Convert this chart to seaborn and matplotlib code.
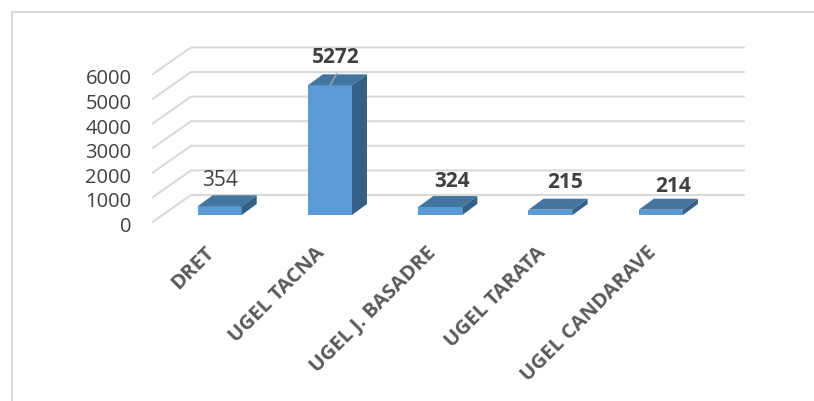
import matplotlib
matplotlib.use("Agg")
import matplotlib.pyplot as plt
from matplotlib.patches import Polygon, Rectangle
import pandas as pd
import seaborn as sns

categorias = ["DRET", "UGEL TACNA", "UGEL J. BASADRE", "UGEL TARATA", "UGEL CANDARAVE"]
valores = [354, 5272, 324, 215, 214]
negrita = [False, True, True, True, True]
y_ticks = [0, 1000, 2000, 3000, 4000, 5000, 6000]

W, H = 814, 401
df = pd.DataFrame({"ugel": categorias, "total": valores})

sns.set_theme(style="white")
plt.rcParams["font.family"] = ["Open Sans", "DejaVu Sans"]

fig = plt.figure(figsize=(W / 100, H / 100), dpi=100)
# plano de las barras: x 164.5-716 px, y=0 en 215 px, 24.6 px por cada 1000
ax = fig.add_axes([164.5 / W, 1 - 215 / H, 551.5 / W, 147.6 / H])
ax.patch.set_alpha(0)

sns.barplot(data=df, x="ugel", y="total", color="#5b9bd5", saturation=1, width=0.4, linewidth=0, ax=ax, zorder=3)
ax.set_xlim(-0.5, 4.5)
ax.set_ylim(0, 6000)
sns.despine(ax=ax, left=True, bottom=True)
ax.set_xlabel("")
ax.set_ylabel("")
ax.set_xticks([])
ax.set_yticks([])

# cuadricula 3D: pared del fondo y piso
x_izq = ax.transData.transform((-0.5, 0))[0]
for v in y_ticks:
    ya = ax.transData.transform((-0.5, v))[1]
    fig.add_artist(plt.Line2D([x_izq - 12, x_izq + 26.5, x_izq + 579.5], [ya - 7, ya + 20, ya + 20],
                              color="#d9d9d9", lw=1.5, transform=None, zorder=-1))
    ax.annotate(str(v), (-0.5, v), xytext=(-33, -12), textcoords="offset pixels", ha="right", va="center",
                fontsize=14.5, color="#404040", annotation_clip=False)

# caras superior y lateral de cada barra
PROF_X, PROF_Y = 15, 11
for barra in ax.patches:
    x0, y0 = ax.transData.transform((barra.get_x(), 0))
    x1, y1 = ax.transData.transform((barra.get_x() + barra.get_width(), barra.get_height()))
    arriba = [(x0, y1), (x1, y1), (x1 + PROF_X, y1 + PROF_Y), (x0 + PROF_X, y1 + PROF_Y)]
    lado = [(x1, y0), (x1 + PROF_X, y0 + PROF_Y), (x1 + PROF_X, y1 + PROF_Y), (x1, y1)]
    fig.add_artist(Polygon(arriba, closed=True, fc="#44759f", ec="none", transform=None, zorder=4))
    fig.add_artist(Polygon(lado, closed=True, fc="#355f85", ec="none", transform=None, zorder=4))

# etiquetas de datos
offsets = [(0, 26), (6, 28), (12, 26), (15, 27), (12, 23)]
for i, (val, neg, off) in enumerate(zip(valores, negrita, offsets)):
    ax.annotate(str(val), (i, val), xytext=off, textcoords="offset pixels", ha="center", va="center",
                fontsize=15, color="#404040", fontweight="bold" if neg else "normal",
                annotation_clip=False, zorder=6)

# linea guia de la etiqueta 5272
xb, yb = ax.transData.transform((1, valores[1]))
fig.add_artist(plt.Line2D([xb, xb + 7], [yb, yb + 12], color="#a6a6a6", lw=1, transform=None, zorder=5))

# nombres de categoria
for i, nombre in enumerate(categorias):
    ax.annotate(nombre, (i, 0), xytext=(-15, -28), textcoords="offset pixels", ha="right", va="top", rotation=45,
                rotation_mode="anchor", fontsize=14.7, fontweight="bold", color="#595959", annotation_clip=False)

# marco del grafico
fig.add_artist(Rectangle((11 / W, -0.02), 2 / W, 1 - 11 / H + 0.02, fc="#d9d9d9", ec="none", transform=fig.transFigure))
fig.add_artist(Rectangle((11 / W, 1 - 13 / H), 1, 2 / H, fc="#d9d9d9", ec="none", transform=fig.transFigure))

fig.savefig("out.png", dpi=100)
